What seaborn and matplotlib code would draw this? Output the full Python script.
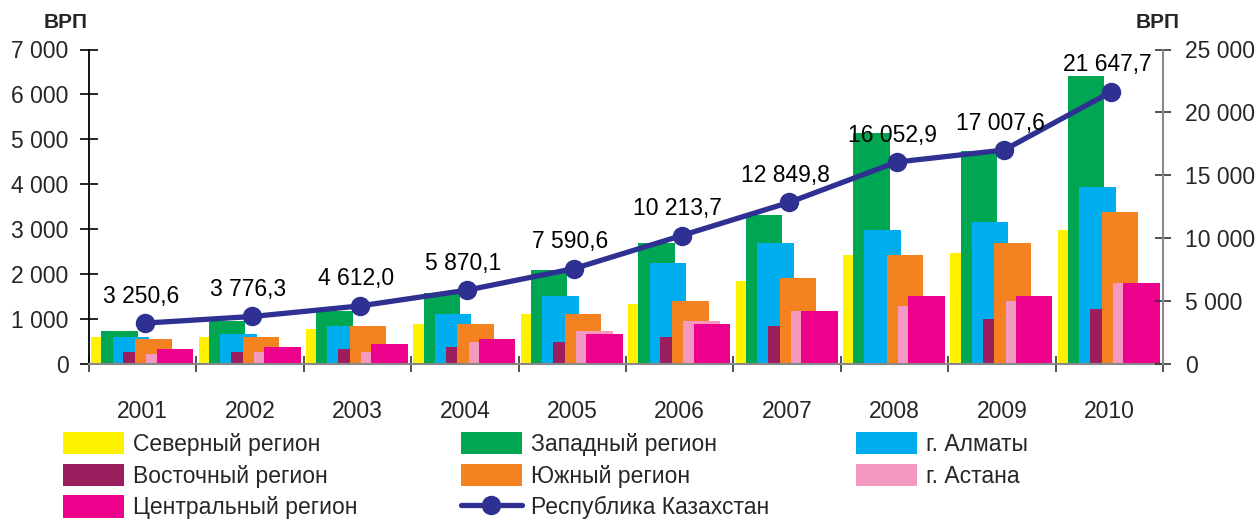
import numpy as np
import pandas as pd
import matplotlib
matplotlib.use("Agg")
import matplotlib.pyplot as plt
from matplotlib.patches import Patch
from matplotlib.lines import Line2D
import seaborn as sns

# ---------------- data ----------------
years = ["2001", "2002", "2003", "2004", "2005", "2006", "2007", "2008", "2009", "2010"]
north   = [600, 600, 780, 900, 1115, 1340, 1850, 2430, 2475, 2985]
west    = [735, 950, 1180, 1580, 2095, 2700, 3320, 5150, 4750, 6405]
almaty  = [600, 675, 855, 1120, 1515, 2250, 2700, 2985, 3165, 3945]
east    = [275, 275, 335, 380, 490, 600, 845, np.nan, 1000, 1225]
south   = [555, 600, 855, 900, 1115, 1405, 1915, 2430, 2700, 3390]
astana  = [230, 275, 275, 500, 735, 960, 1180, 1290, 1400, 1805]
central = [335, 380, 455, 555, 670, 890, 1180, 1515, 1515, 1805]
kazakhstan = [3250.6, 3776.3, 4612.0, 5870.1, 7590.6, 10213.7, 12849.8, 16052.9, 17007.6, 21647.7]

series_names = ["Северный регион", "Западный регион", "г. Алматы", "Восточный регион",
                "Южный регион", "г. Астана", "Центральный регион"]
total_name = "Республика Казахстан"
axis_title = "ВРП"

# ---------------- style ----------------
colors = {
    "Северный регион": "#FFF200",
    "Западный регион": "#00A651",
    "г. Алматы": "#00AEEF",
    "Восточный регион": "#9B1F5F",
    "Южный регион": "#F58220",
    "г. Астана": "#F49AC1",
    "Центральный регион": "#EC008C",
}
line_color = "#2E3192"
# left edge of each bar within a year slot (slot = 1 unit, starting at -0.5)
left_edges = {
    "Северный регион": 0.02,
    "Западный регион": 0.115,
    "г. Алматы": 0.22,
    "Восточный регион": 0.32,
    "Южный регион": 0.43,
    "г. Астана": 0.535,
    "Центральный регион": 0.63,
}
bar_w = 0.34

sns.set_theme(style="white")
plt.rcParams["font.family"] = ["Liberation Sans", "DejaVu Sans"]
FS = 16.5

fig = plt.figure(figsize=(12.55, 5.21), dpi=100)
ax = fig.add_axes([89 / 1255, 1 - 364 / 521, (1163 - 89) / 1255, (364 - 49.5) / 521])

values = {
    "Северный регион": north,
    "Западный регион": west,
    "г. Алматы": almaty,
    "Восточный регион": east,
    "Южный регион": south,
    "г. Астана": astana,
    "Центральный регион": central,
}

idx = np.arange(len(years))
for name in series_names:
    df = pd.DataFrame({"pos": idx - 0.5 + left_edges[name] + bar_w / 2,
                       "val": values[name]}).dropna()
    sns.barplot(data=df, x="pos", y="val", native_scale=True, width=bar_w,
                color=colors[name], saturation=1, errorbar=None,
                linewidth=0, edgecolor="none", ax=ax)

ax.set_xlim(-0.5, len(years) - 0.5)
ax.set_ylim(0, 7000)
ax.set_xlabel("")
ax.set_ylabel("")
ax.set_xticks(idx)
ax.set_xticklabels(years, fontsize=FS)
ax.set_xticks(np.arange(len(years) + 1) - 0.5, minor=True)
ax.tick_params(axis="x", which="major", length=0, pad=26)
ax.tick_params(axis="x", which="minor", length=12, width=1.2, color="#333333",
               direction="inout", bottom=True)
yt = np.arange(0, 7001, 1000)
ax.set_yticks(yt)
ax.set_yticklabels([f"{v:,}".replace(",", " ") for v in yt], fontsize=FS)
ax.tick_params(axis="y", which="major", direction="inout", length=13, width=1.2,
               color="black", pad=8.3, left=True)
for s in ["top", "right"]:
    ax.spines[s].set_visible(False)
ax.spines["left"].set_color("black")
ax.spines["left"].set_linewidth(1.3)
ax.spines["bottom"].set_color("#888888")
ax.spines["bottom"].set_linewidth(1.5)
ax.grid(False)

ax2 = ax.twinx()
sns.lineplot(x=idx + 0.02, y=kazakhstan, ax=ax2, color=line_color, linewidth=3.8,
             marker="o", markersize=14, markeredgewidth=0, markeredgecolor=line_color)
ax2.set_ylim(0, 25000)
ax2.set_xlim(-0.5, len(years) - 0.5)
yt2 = np.arange(0, 25001, 5000)
ax2.set_yticks(yt2)
ax2.set_yticklabels([f"{v:,}".replace(",", " ") for v in yt2], fontsize=FS)
ax2.tick_params(axis="y", direction="inout", length=12, width=1.2, color="#333333",
                pad=10, right=True)
for s in ["top", "left", "bottom"]:
    ax2.spines[s].set_visible(False)
ax2.spines["right"].set_color("#888888")
ax2.spines["right"].set_linewidth(1.5)
ax2.grid(False)

for x, v in zip(idx + 0.02, kazakhstan):
    txt = f"{v:,.1f}".replace(",", " ").replace(".", ",")
    ax2.annotate(txt, (x, v), xytext=(-4, 27), textcoords="offset pixels",
                 ha="center", va="center", fontsize=FS, color="black")

fig.text(66 / 1255, 1 - 22 / 521, axis_title, ha="center", va="center",
         fontsize=15, fontweight="bold")
fig.text(1158 / 1255, 1 - 22 / 521, axis_title, ha="center", va="center",
         fontsize=15, fontweight="bold")

# ---------------- legend ----------------
def patch(name):
    return Patch(facecolor=colors[name], edgecolor="none", label=name)

line_handle = Line2D([0], [0], color=line_color, lw=3.8, marker="o", markersize=14,
                     markeredgewidth=0, label=total_name)

cols = [
    ([patch("Северный регион"), patch("Восточный регион"), patch("Центральный регион")], 63),
    ([patch("Западный регион"), patch("Южный регион"), line_handle], 461),
    ([patch("г. Алматы"), patch("г. Астана")], 856),
]
for handles, xpx in cols:
    fig.legend(handles=handles, loc="upper left",
               bbox_to_anchor=(xpx / 1255, 1 - 432 / 521),
               frameon=False, fontsize=FS, handlelength=2.66, handleheight=1.13,
               handletextpad=0.4, labelspacing=0.33, borderpad=0, borderaxespad=0)

fig.savefig("out.png", dpi=100)
